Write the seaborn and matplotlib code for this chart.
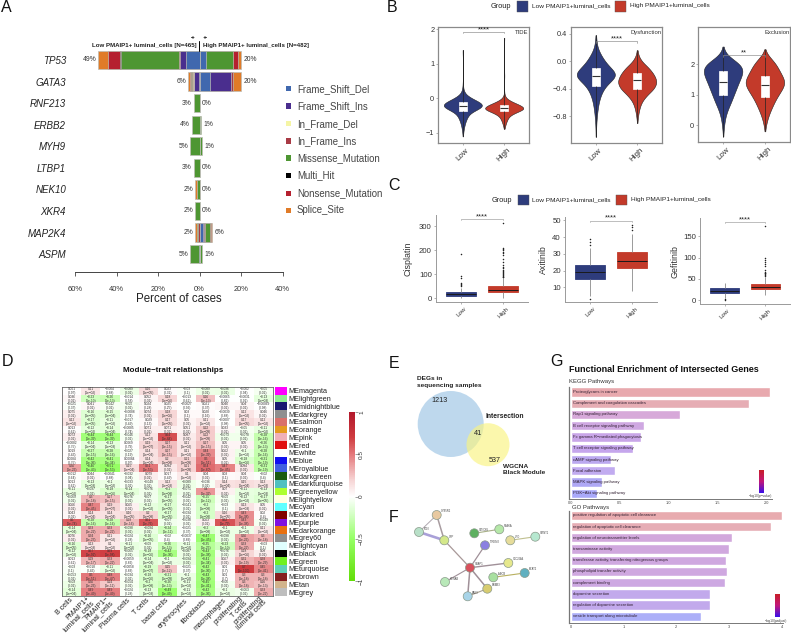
import numpy as np
import pandas as pd
import matplotlib
matplotlib.use("Agg")
import matplotlib.pyplot as plt
from matplotlib.colors import LinearSegmentedColormap, ListedColormap
from matplotlib.patches import Circle, Rectangle
import seaborn as sns

# ---------- Panel A data ----------
genes = ["TP53", "GATA3", "RNF213", "ERBB2", "MYH9", "LTBP1", "NEK10", "XKR4", "MAP2K4", "ASPM"]
mut_types = ["Frame_Shift_Del", "Frame_Shift_Ins", "In_Frame_Del", "In_Frame_Ins",
             "Missense_Mutation", "Multi_Hit", "Nonsense_Mutation", "Splice_Site"]
low_fsd = [6.5, 0.3, 0, 0, 0, 0, 0, 0, 0, 0.2]
low_fsi = [3, 2.5, 0, 0, 0, 0, 0, 0, 0, 0]
low_ifd = [0, 0.3, 0, 0, 0, 0, 0, 0, 0, 0]
low_ifi = [0.3, 0.5, 0, 0, 0, 0, 0, 0, 1, 0]
low_mis = [28, 0.6, 2.9, 3.9, 4.6, 2.8, 1.2, 2, 0.5, 4.3]
low_mh = [0.5, 0, 0, 0, 0, 0, 0, 0, 0, 0]
low_non = [6, 0.3, 0, 0, 0, 0, 0, 0, 0, 0]
low_spl = [4.5, 1, 0, 0, 0, 0, 0.8, 0, 0.5, 0]
high_fsd = [3, 5, 0, 0, 0, 0, 0, 0, 1.8, 0.2]
high_fsi = [0, 10, 0, 0, 0, 0, 0, 0, 0.3, 0]
high_ifd = [0, 0, 0, 0, 0, 0, 0, 0, 0, 0]
high_ifi = [0, 1.3, 0, 0, 0, 0, 0, 0, 0.4, 0]
high_mis = [13, 0, 0.2, 0.7, 1.2, 0.1, 0.1, 0.1, 2.5, 1]
high_mh = [0, 0, 0, 0, 0, 0, 0, 0, 0, 0]
high_non = [2.5, 0, 0, 0, 0, 0, 0, 0, 0.6, 0]
high_spl = [1.5, 3.7, 0, 0, 0, 0, 0, 0, 0.6, 0]
low_pct = ["49%", "6%", "3%", "4%", "5%", "3%", "2%", "2%", "2%", "5%"]
high_pct = ["20%", "20%", "0%", "1%", "1%", "0%", "0%", "0%", "6%", "1%"]
mut_colors = ["#4068AE", "#4A2E8E", "#F5F5A5", "#A83A45", "#4E9632", "#000000", "#B5202F", "#E07B28"]

# ---------- Panel B data: histogram ----------
tide_low_v = [-1.1, -1, -.9, -.8, -.7, -.6, -.5, -.4, -.3, -.2, -.1, 0, .1, .2, .3, .4, 1.3, 1.4]
tide_low_n = [1, 2, 4, 7, 11, 17, 24, 38, 75, 100, 75, 40, 15, 5, 2, 1, 1, 1]
tide_high_v = [-.88, -.8, -.7, -.6, -.5, -.4, -.3, -.2, -.1, 0, .1, .65, 1.75]
tide_high_n = [1, 4, 9, 15, 24, 55, 100, 75, 35, 8, 2, 1, 1]
dys_low_v = [.38, .3, .2, .1, 0, -.1, -.2, -.3, -.4, -.5, -.6, -.7, -.8, -.9, -1, -1.1]
dys_low_n = [1, 2, 5, 18, 35, 55, 100, 50, 30, 18, 11, 7, 4, 2, 1, 1]
dys_high_v = [.16, .1, 0, -.1, -.2, -.3, -.4, -.5, -.6, -.7, -.8, -.9]
dys_high_n = [1, 3, 20, 60, 85, 100, 85, 45, 20, 10, 4, 1]
exc_low_v = [2.58, 2.4, 2.2, 2, 1.8, 1.6, 1.4, 1.2, 1, .8, .6, .4, .2, 0, -.2, -.37]
exc_low_n = [1, 5, 35, 90, 100, 90, 75, 65, 52, 42, 28, 16, 9, 5, 2, 1]
exc_high_v = [2.49, 2.2, 2, 1.8, 1.6, 1.4, 1.2, 1, .8, .6, .4, .2, 0, -.2]
exc_high_n = [1, 28, 55, 68, 85, 100, 85, 65, 48, 35, 22, 12, 5, 1]
# five-number boxes (min, q1, median, q3, max)
tide_low_box = [-1.1, -.37, -.21, -.1, 1.4]
tide_high_box = [-.88, -.38, -.29, -.19, 1.75]
dys_low_box = [-1.1, -.36, -.21, -.1, .38]
dys_high_box = [-.9, -.4, -.28, -.175, .16]
exc_low_box = [-.37, 1.0, 1.42, 1.78, 2.58]
exc_high_box = [-.2, .94, 1.33, 1.6, 2.49]

# ---------- Panel C data ----------
cis_low_box = [0, 10, 18, 26, 45]
cis_high_box = [0, 25, 37, 50, 85]
cis_low_out = [50, 55, 60, 65, 85, 92, 185]
cis_high_out = [87, 90, 93, 96, 100, 104, 108, 112, 118, 125, 132, 140, 150, 165, 180, 190, 195, 200, 205, 210, 315]
axi_low_box = [5, 15.2, 19, 23.1, 33.5]
axi_high_box = [7.8, 21.5, 26, 31.3, 42]
axi_low_out = [3, 35, 37, 39]
axi_high_out = [44, 46, 47]
gef_low_box = [5, 16, 22.5, 28, 40]
gef_high_box = [12.5, 26, 32, 37.5, 55]
gef_low_out = [0, 3]
gef_high_out = [57, 59, 61, 63, 65, 67, 70, 80, 85, 90, 95, 100, 175]

# ---------- Panel D data ----------
traits = ["B cells", "PMAIP1+\nluminal_cells", "PMAIP1−\nluminal_cells", "Plasma cells", "T cells",
          "basal cells", "erythrocytes", "fibroblasts", "macrophages",
          "proliferating\nT cells", "proliferating\nluminal cells"]
modules = ["magenta", "lightgreen", "midnightblue", "darkgrey", "salmon", "orange", "pink", "red", "white",
           "blue", "royalblue", "darkgreen", "darkturquoise", "greenyellow", "lightyellow", "cyan", "darkred",
           "purple", "darkorange", "grey60", "lightcyan", "black", "green", "turquoise", "brown", "tan", "grey"]
module_colors = ["#FF00FF", "#90EE90", "#191970", "#8F8F8F", "#D9706A", "#E69A20", "#F0B0B8", "#E01010", "#FFFFFF",
                 "#1010F0", "#4060E0", "#1A5C10", "#50C0C0", "#ADFF2F", "#FFFFE0", "#60FFFF", "#800000",
                 "#8010E0", "#E87010", "#8F8F8F", "#E0FFFF", "#000000", "#70F020", "#60D0B8", "#852020",
                 "#D2B48C", "#BEBEBE"]
cor_values = [
    [.001, .11, -.004, -.089, .16, .023, -.03, -.089, -.096, -.002, -.05],
    [.036, -.23, -.26, -.014, .052, .18, -.013, .26, -.0065, -.0031, -.13],
    [-.021, .041, -.042, -.05, .024, .025, -.0027, .021, .046, .04, -.00069],
    [.075, -.16, -.15, -.0088, .074, .18, .03, .028, -.0039, .12, .046],
    [.12, -.17, -.11, -.017, .029, .17, .05, .11, -.0007, .17, .12],
    [.013, -.12, -.14, -.0085, .071, .071, .051, .22, .033, -.05, -.11],
    [.073, -.44, -.44, -.046, .12, .64, .087, .22, -.073, -.078, -.28],
    [-.0082, -.14, -.13, .0069, .19, .27, .11, .27, .05, .05, -.26],
    [.019, -.27, -.28, -.027, .14, .27, .11, .44, .062, -.1, -.28],
    [.0084, -.42, -.41, .00084, .14, .2, .21, .5, .05, -.18, -.31],
    [.36, -.46, -.51, .15, .51, .094, .21, .54, .47, .094, -.31],
    [-.012, .044, -.0041, -.032, .079, .017, .1, .04, .03, .04, -.02],
    [.013, -.13, -.1, -.033, -.049, .13, -.089, -.036, .14, .15, .13],
    [-.11, -.097, -.18, -.14, -.076, -.2, -.071, .4, .07, -.11, -.13],
    [-.069, .3, .27, -.076, -.07, -.17, -.042, -.25, -.05, -.12, -.17],
    [.066, .47, .19, .065, -.12, -.17, -.041, -.2, -.03, .13, .05],
    [.043, .14, .14, .16, .2, -.17, -.034, -.2, .16, .43, .02],
    [.6, -.28, -.28, .28, .61, -.07, -.038, .063, .62, .43, -.049],
    [-.14, .33, .33, -.098, -.094, -.24, -.021, -.2, -.1, -.1, .11],
    [.076, .34, .11, -.024, -.16, -.02, -.0037, -.47, -.098, .36, .3],
    [-.16, .13, .1, -.11, -.09, -.26, -.11, -.35, -.23, .33, -.03],
    [-.12, .67, .69, -.065, -.18, -.42, -.087, -.43, -.076, .18, .08],
    [.013, .29, .33, -.0059, -.14, -.1, -.094, -.41, .067, .31, .38],
    [-.03, -.018, -.11, -.0058, -.19, .25, -.021, -.42, .01, .7, .45],
    [-.053, .5, .48, -.034, -.18, -.21, -.1, -.43, .01, .3, .3],
    [-.09, .36, .24, -.054, -.2, -.26, -.11, -.45, -.06, .3, .26],
    [-.14, .49, .49, -.024, -.13, -.49, -.11, -.42, -.1, -.063, .33],
]

# ---------- Panel E data ----------
venn_counts = ["1213", "41", "537"]

# ---------- Panel F data (network layout as drawn) ----------
node_names = ["CYB5R2", "FCN", "CFP", "SYNDIG", "RAB6A", "TREM2", "LPO", "SPINT1", "SNAP1", "SLC26A4",
              "ABCB", "BCAT2", "KCNAB", "ERBB3", "PAK3"]
node_x = [436.7, 419, 444.3, 474.3, 499.3, 485, 510.3, 535.3, 470, 508.3, 493.3, 524.7, 445, 487.3, 467.7]
node_y = [515, 532, 540.3, 533.3, 529.3, 545.3, 540.3, 536.7, 567.7, 563, 577.3, 573, 582, 588.7, 596.3]
node_colors = ["#E8C9A0", "#B8E0C8", "#D4E88A", "#5DB060", "#B5E8A8", "#8A80E0", "#E6DC9A", "#B6E8D0", "#D8505C",
               "#E6E88C", "#A8E0A0", "#60B0C0", "#B8E8B8", "#D8CC70", "#A8D4E8"]
edge_a = [0, 0, 1, 2, 3, 6, 5, 9, 10, 8, 8, 8, 14]
edge_b = [2, 1, 2, 8, 4, 7, 8, 8, 11, 12, 13, 14, 13]
edge_w = [1.1, 0.7, 1.9, 0.9, 0.8, 0.8, 0.9, 1.0, 0.8, 0.8, 1.1, 1.1, 0.8]
edge_c = ["#A89CA0", "#B0A8B0", "#A9A0D8", "#A89898", "#A8B088", "#C0C090", "#A09098", "#A09098", "#B8B060",
          "#A09098", "#A09098", "#A09098", "#A8A090"]

# ---------- Panel G data ----------
kegg_terms = ["Proteoglycans in cancer", "Complement and coagulation cascades", "Rap1 signaling pathway",
              "B cell receptor signaling pathway", "Fc gamma R−mediated phagocytosis",
              "T cell receptor signaling pathway", "cAMP signaling pathway", "Focal adhesion",
              "MAPK signaling pathway", "PI3K−Akt signaling pathway"]
kegg_values = [2.04, 1.82, 1.12, .75, .72, .64, .415, .45, .32, .265]
kegg_colors = ["#E8A9AE", "#E6ADB4", "#D7A9D9", "#CFA8E2", "#C9A6E8", "#C5A6EC", "#BBA9F0", "#C1ABF0", "#AFA8F5", "#A9A9FA"]
go_terms = ["positive regulation of apoptotic cell clearance", "regulation of apoptotic cell clearance",
            "regulation of neurotransmitter levels", "transaminase activity",
            "transferase activity, transferring nitrogenous groups", "phospholipid transfer activity",
            "complement binding", "dopamine secretion", "regulation of dopamine secretion",
            "vesicle transport along microtubule"]
go_values = [4.0, 3.79, 3.06, 2.99, 2.95, 2.96, 2.92, 2.63, 2.63, 2.47]
go_colors = ["#E8ABAF", "#E6ADB5", "#D2A8DC", "#D0A8DE", "#CFA8E0", "#CFA8E0", "#CDA8E2", "#C2A9EC", "#C2A9EC", "#ACAFF8"]

# ---------- Setup ----------
sns.set_theme(style="white")
plt.rcParams["font.family"] = ["Liberation Sans", "DejaVu Sans"]
plt.rcParams["axes.unicode_minus"] = True
W, H = 791, 635
BLUE, RED = "#2E3C7C", "#C33A2A"
GROUP = ["Low", "High"]
TXT = "#333333"
fig = plt.figure(figsize=(W / 100, H / 100), dpi=100, facecolor="white")


def ax_px(l, t, r, b, **kw):
    a = fig.add_axes([l / W, 1 - b / H, (r - l) / W, (b - t) / H], **kw)
    a.patch.set_alpha(0)
    return a


ov = ax_px(0, 0, W, H, zorder=20)
ov.set_xlim(0, W)
ov.set_ylim(H, 0)
ov.axis("off")

for letter, x, y in [("A", 1, 8), ("B", 387, 8), ("C", 388, 186), ("D", 2, 362), ("E", 389, 363), ("F", 389, 518), ("G", 550, 361)]:
    ov.text(x, y, letter, fontsize=11.5, va="center", ha="left", color="#111111")

# ---------- Panel A ----------
axA = ax_px(75, 49, 282.7, 272)
low_all = [low_fsd, low_fsi, low_ifd, low_ifi, low_mis, low_mh, low_non, low_spl]
high_all = [high_fsd, high_fsi, high_ifd, high_ifi, high_mis, high_mh, high_non, high_spl]
for sign, arrs in [(-1, low_all), (1, high_all)]:
    cum = np.cumsum(np.array(arrs, dtype=float), axis=0)
    raw = np.array(arrs, dtype=float)
    for k in range(len(mut_types) - 1, -1, -1):
        keep = raw[k] > 0
        if not keep.any():
            continue
        df = pd.DataFrame({"v": sign * cum[k][keep], "g": np.array(genes)[keep]})
        sns.barplot(data=df, x="v", y="g", order=genes, orient="y", color=mut_colors[k], saturation=1,
                    width=0.85, errorbar=None, linewidth=0.5, edgecolor="#BDBDB5", ax=axA)
axA.set_xlim(-60, 40)
axA.set_ylim(9.83, -0.51)
axA.set_xticks([-60, -40, -20, 0, 20, 40])
axA.set_xticklabels(["60%", "40%", "20%", "0%", "20%", "40%"], fontsize=5.4, color=TXT)
axA.tick_params(axis="x", length=3, width=0.6, color="#444444", pad=7, bottom=True)
axA.tick_params(axis="y", length=0, pad=6.5)
for t in axA.get_yticklabels():
    t.set_fontsize(7)
    t.set_style("italic")
    t.set_color("#222222")
axA.set_xlabel("Percent of cases", fontsize=8.3, labelpad=0, color="#222222")
axA.set_ylabel("")
for s in ["top", "left", "right"]:
    axA.spines[s].set_visible(False)
axA.spines["bottom"].set_color("#444444")
axA.spines["bottom"].set_linewidth(0.7)
low_tot = np.sum(low_all, axis=0)
high_tot = np.sum(high_all, axis=0)
for i in range(len(genes)):
    axA.text(-low_tot[i] - 1, i, low_pct[i], ha="right", va="center", fontsize=4.9, color=TXT)
    axA.text(high_tot[i] + 1, i, high_pct[i], ha="left", va="center", fontsize=4.9, color=TXT)
ov.text(196.5, 45.5, "Low PMAIP1+ luminal_cells [N=465]", ha="right", va="center", fontsize=4.45, fontweight="bold", color="#222222")
ov.text(203, 45.5, "High PMAIP1+ luminal_cells [N=482]", ha="left", va="center", fontsize=4.45, fontweight="bold", color="#222222")
ov.plot([199.3, 199.3], [41, 50.5], color="black", lw=0.7)
ov.annotate("", xy=(188, 37.5), xytext=(197, 37.5), arrowprops=dict(arrowstyle="-|>", lw=0.5, color="#333333", mutation_scale=3))
ov.annotate("", xy=(210, 37.5), xytext=(201, 37.5), arrowprops=dict(arrowstyle="-|>", lw=0.5, color="#333333", mutation_scale=3))
for name, col, y in zip(mut_types, mut_colors, [88.7, 106, 123.7, 141, 158, 175.3, 193.3, 210.3]):
    ov.add_patch(Rectangle((285.5, y - 2.8), 5.5, 5.6, color=col, lw=0))
    ov.text(297, y, name, fontsize=6.9, va="center", ha="left", color="#444444")


# ---------- Panels B / C legends ----------
def group_legend(y, x0, h):
    ov.text(x0, y, "Group", fontsize=5.3, va="center", ha="left", color="#222222")
    ov.add_patch(Rectangle((x0 + 26, y - h / 2), 10.5, h, facecolor=BLUE, edgecolor="#555555", lw=0.3))
    ov.text(x0 + 40.5, y, "Low PMAIP1+luminal_cells", fontsize=4.65, va="center", ha="left", color="#222222")
    ov.add_patch(Rectangle((x0 + 124, y - h / 2), 10.5, h, facecolor=RED, edgecolor="#555555", lw=0.3))
    ov.text(x0 + 139, y, "High PMAIP1+luminal_cells", fontsize=4.65, va="center", ha="left", color="#222222")


group_legend(6, 491, 11)
group_legend(200, 492, 10)


# ---------- Panel B ----------
def violin_panel(box, low_v, low_n, high_v, high_n, low_box, high_box, ylim, yticks, yfmt, title, brk, bw):
    a = ax_px(*box)
    df = pd.DataFrame({"g": ["Low"] * int(np.sum(low_n)) + ["High"] * int(np.sum(high_n)),
                       "v": np.r_[np.repeat(low_v, low_n), np.repeat(high_v, high_n)]})
    sns.violinplot(data=df, x="g", y="v", hue="g", order=GROUP, palette={"Low": BLUE, "High": RED}, legend=False,
                   inner=None, cut=0, width=0.92, density_norm="width", bw_adjust=bw, saturation=1,
                   linewidth=0.4, linecolor="#222222", ax=a)
    bx = pd.DataFrame({"g": ["Low"] * 5 + ["High"] * 5, "v": list(low_box) + list(high_box)})
    sns.boxplot(data=bx, x="g", y="v", order=GROUP, color="white", width=0.2, whis=(0, 100), showcaps=False,
                saturation=1, linewidth=0.5, fliersize=0,
                boxprops=dict(edgecolor="white"), medianprops=dict(color="#333333", lw=0.8),
                whiskerprops=dict(color="#222222", lw=0.5), ax=a)
    a.set_xlim(-0.6, 1.6)
    a.set_ylim(*ylim)
    a.set_yticks(yticks)
    a.set_yticklabels([yfmt(v) for v in yticks], fontsize=5.3, color=TXT)
    a.set_xticks([0, 1])
    a.set_xticklabels(GROUP, fontsize=5.8, rotation=45, ha="center", color=TXT)
    a.tick_params(axis="both", length=1.5, width=0.4, color="#777777", pad=1.2, left=True, bottom=True)
    a.set_xlabel("")
    a.set_ylabel("")
    for s in a.spines.values():
        s.set_color("#8A8A8A")
        s.set_linewidth(0.9)
        s.set_visible(True)
    a.text(0.995, 0.975, title, transform=a.transAxes, ha="right", va="top", fontsize=4.2, color=TXT)
    lvl, stars = brk
    a.plot([0, 0, 1, 1], [lvl - (ylim[1] - ylim[0]) * 0.012, lvl, lvl, lvl - (ylim[1] - ylim[0]) * 0.012], color="#888888", lw=0.45)
    a.text(0.5, lvl - (ylim[1] - ylim[0]) * 0.012, stars, ha="center", va="bottom", fontsize=5.5, color="#222222")
    return a


sfmt = lambda v: f"{v:g}".replace("-", "−")
violin_panel((438, 27, 529, 143), tide_low_v, tide_low_n, tide_high_v, tide_high_n, tide_low_box, tide_high_box,
             (-1.29, 2.06), [-1, 0, 1, 2], sfmt, "TIDE", (1.93, "****"), 1.05)
violin_panel((571, 27, 662, 143), dys_low_v, dys_low_n, dys_high_v, dys_high_n, dys_low_box, dys_high_box,
             (-1.19, 0.498), [-.8, -.4, 0, .4], lambda v: f"{v:.1f}".replace("-", "−"), "Dysfunction", (0.29, "****"), 1.25)
violin_panel((698, 27, 790, 142), exc_low_v, exc_low_n, exc_high_v, exc_high_n, exc_low_box, exc_high_box,
             (-0.55, 3.22), [0, 1, 2], sfmt, "Exclusion", (2.29, "**"), 1.15)


# ---------- Panel C ----------
def box_panel(box, name, label_x, low_box, high_box, low_out, high_out, ylim, yticks, lvl):
    a = ax_px(*box)
    for g, vals, col, out in [("Low", low_box, BLUE, low_out), ("High", high_box, RED, high_out)]:
        sns.boxplot(x=[g] * 5, y=vals, order=GROUP, color=col, width=0.72, whis=(0, 100), showcaps=False, saturation=1,
                    linewidth=0.6, fliersize=0, boxprops=dict(edgecolor=col),
                    medianprops=dict(color="#1A1A1A", lw=0.7), whiskerprops=dict(color="#8A8A8A", lw=0.6), ax=a)
        sns.stripplot(x=[g] * len(out), y=out, order=GROUP, color="#222222", size=1.1, jitter=False, ax=a)
    a.set_xlim(-0.6, 1.6)
    a.set_ylim(*ylim)
    a.set_yticks(yticks)
    a.set_yticklabels([str(v) for v in yticks], fontsize=5.6, color=TXT)
    a.set_xticks([0, 1])
    a.set_xticklabels(GROUP, fontsize=4.6, rotation=45, ha="center", color=TXT)
    a.tick_params(axis="both", length=1.5, width=0.4, color="#777777", pad=1.5, left=True, bottom=True)
    a.set_xlabel("")
    a.set_ylabel(name, fontsize=6.4, color="#333333")
    a.yaxis.set_label_coords((label_x - box[0]) / (box[2] - box[0]), 0.5)
    for s in ["top", "right"]:
        a.spines[s].set_visible(False)
    for s in ["left", "bottom"]:
        a.spines[s].set_color("#9A9A9A")
        a.spines[s].set_linewidth(0.7)
    d = (ylim[1] - ylim[0]) * 0.012
    a.plot([0, 0, 1, 1], [lvl - d, lvl, lvl, lvl - d], color="#999999", lw=0.45)
    a.text(0.5, lvl - d * 0.8, "****", ha="center", va="bottom", fontsize=5.5, color="#222222")
    return a


box_panel((436, 215, 528, 302), "Cisplatin", 413, cis_low_box, cis_high_box, cis_low_out, cis_high_out, (-15, 347), [0, 100, 200, 300], 329)
box_panel((565, 217, 657, 302), "Axitinib", 548, axi_low_box, axi_high_box, axi_low_out, axi_high_out, (1.2, 52), [10, 20, 30, 40, 50], 49.6)
box_panel((700, 218, 790, 304), "Gefitinib", 679, gef_low_box, gef_high_box, gef_low_out, gef_high_out, (-8.7, 193), [0, 50, 100, 150], 183)

# ---------- Panel D ----------
ov.text(173.5, 370, "Module−trait relationships", fontsize=5.8, fontweight="bold", ha="center", va="center", color="#111111")
trait_cmap = LinearSegmentedColormap.from_list(
    "gwr", [(0, "#62DE08"), (0.25, "#96FF66"), (0.4, "#D6FFC8"), (0.5, "#FFFFFF"),
            (0.6, "#F6D3D3"), (0.75, "#E4797C"), (0.85, "#CF3C40"), (1, "#B2182B")])


def cell_text(r):
    expo = int(947 * r * r / 4.6)
    p = f"(1e-{expo:02d})" if expo >= 2 else f"({max(0.01, 1 - 30 * abs(r)):.2g})"
    return f"{r:.2g}\n{p}".replace("-0", "−0")


cor = np.array(cor_values)
cell_labels = np.array([[cell_text(v) for v in row] for row in cor_values])
axD = ax_px(62, 387, 273, 596)
caxD = ax_px(349, 412, 355, 581)
sns.heatmap(cor, cmap=trait_cmap, vmin=-1, vmax=1, annot=cell_labels, fmt="",
            annot_kws=dict(fontsize=2.3, color="#333333", linespacing=1.0),
            xticklabels=traits, yticklabels=False, cbar_ax=caxD, ax=axD)
axD.set_xticklabels(traits, rotation=45, ha="right", va="center", rotation_mode="anchor", fontsize=5.1, color="#222222", linespacing=0.95)
axD.tick_params(axis="x", length=0, pad=2.5)
for s in axD.spines.values():
    s.set_visible(True)
    s.set_color("#666666")
    s.set_linewidth(0.6)
cb = axD.collections[0].colorbar
cb.set_ticks([-1, -0.5, 0, 0.5, 1])
cb.set_ticklabels(["−1", "−0.5", "0", "0.5", "1"])
caxD.tick_params(length=2, width=0.4, pad=1, labelsize=4.6, labelcolor=TXT, labelrotation=90, color="#555555")
for t in caxD.get_yticklabels():
    t.set_va("center")
axM = ax_px(274.7, 387, 287, 596)
sns.heatmap(np.arange(len(modules)).reshape(-1, 1), cmap=ListedColormap(module_colors), cbar=False,
            xticklabels=False, yticklabels=["ME" + m for m in modules], ax=axM)
axM.yaxis.tick_right()
axM.tick_params(axis="y", length=0, pad=1.2, labelsize=5.25, labelcolor="#222222", labelrotation=0)

# ---------- Panel E ----------
ov.add_patch(Circle((450.7, 424), 33, facecolor="#A9CCE8", alpha=0.75, lw=0))
ov.add_patch(Circle((488, 444.7), 21.5, facecolor="#FAF480", alpha=0.65, lw=0))
ov.text(417, 382, "DEGs in\nsequencing samples", fontsize=4.65, fontweight="bold", va="center", ha="left", linespacing=1.25, color="#222222")
ov.text(439.7, 400, venn_counts[0], fontsize=5.2, ha="center", va="center", color="#222222")
ov.text(478, 433.5, venn_counts[1], fontsize=5.2, ha="center", va="center", color="#222222")
ov.text(495, 460, venn_counts[2], fontsize=5.2, ha="center", va="center", color="#222222")
ov.text(485.5, 417, "Intersection", fontsize=4.9, fontweight="bold", va="center", ha="left", color="#222222")
ov.text(503, 469, "WGCNA\nBlack Module", fontsize=4.65, fontweight="bold", va="center", ha="left", linespacing=1.25, color="#222222")

# ---------- Panel F ----------
for a_i, b_i, w, c in zip(edge_a, edge_b, edge_w, edge_c):
    ov.plot([node_x[a_i], node_x[b_i]], [node_y[a_i], node_y[b_i]], color=c, lw=w, solid_capstyle="round", zorder=1)
sns.scatterplot(x=node_x, y=node_y, hue=node_names, palette=dict(zip(node_names, node_colors)), legend=False,
                s=42, linewidth=0.5, edgecolor="#8A9A8A", ax=ov, zorder=2)
for xv, yv, nm in zip(node_x, node_y, node_names):
    ov.text(xv + 4.5, yv - 3.5, nm, fontsize=1.9, color="#444444", ha="left", va="center")
ov.set_xlim(0, W)
ov.set_ylim(H, 0)

# ---------- Panel G ----------
ov.text(569, 369.5, "Functional Enrichment of Intersected Genes", fontsize=6.45, fontweight="bold", va="center", ha="left", color="#111111")
ov.text(569, 382, "KEGG Pathways", fontsize=4.3, va="center", ha="left", color="#333333")
ov.text(571.5, 507.7, "GO Pathways", fontsize=4.3, va="center", ha="left", color="#333333")


def bar_panel(box, terms, values, colors, xlim, ylim, xticks, xfmt):
    a = ax_px(*box)
    df = pd.DataFrame({"t": terms, "v": values})
    sns.barplot(data=df, x="v", y="t", hue="t", order=terms, hue_order=terms, palette=dict(zip(terms, colors)),
                dodge=False, legend=False, saturation=1, width=0.83, errorbar=None, ax=a)
    a.set_xlim(*xlim)
    a.set_ylim(*ylim)
    a.set_xticks(xticks)
    a.set_xticklabels([xfmt(v) for v in xticks], fontsize=2.8, color="#444444")
    a.tick_params(axis="x", length=1, width=0.3, pad=0.6, color="#777777", bottom=True)
    a.set_yticks([])
    a.set_xlabel("")
    a.set_ylabel("")
    for i, t in enumerate(terms):
        a.text(0.02 * xlim[1] * 0.5, i, t, fontsize=3.05, ha="left", va="center", color="#332233")
    for s in ["top", "right"]:
        a.spines[s].set_visible(False)
    a.spines["left"].set_color("#777777")
    a.spines["left"].set_linewidth(0.9)
    a.spines["bottom"].set_color("#777777")
    a.spines["bottom"].set_linewidth(0.7)
    return a


bar_panel((569, 387, 772, 498.7), kegg_terms, kegg_values, kegg_colors, (-0.017, 2.06), (9.48, -0.44),
          [0, 0.5, 1, 1.5, 2], lambda v: f"{v:.1f}")
bar_panel((569, 510.7, 783, 622.7), go_terms, go_values, go_colors, (-0.032, 4.02), (9.57, -0.41),
          [0, 1, 2, 3, 4], lambda v: f"{v:g}")

grad = LinearSegmentedColormap.from_list("br", ["#3A10E8", "#C2187A", "#C81E28"])
for (l, t, r, b), lab, ly, lx in [((758.7, 470, 763, 493), "−log10(p−value)", 496.3, 761),
                                  ((775, 594, 779.3, 616.7), "−log10(padjust)", 620.6, 776)]:
    c = ax_px(l, t, r, b)
    c.imshow(np.linspace(1, 0, 64).reshape(-1, 1), cmap=grad, aspect="auto")
    c.axis("off")
    ov.text(lx, ly, lab, fontsize=2.3, ha="center", va="center", color="#444444")

fig.savefig("out.png", dpi=100, facecolor="white")
